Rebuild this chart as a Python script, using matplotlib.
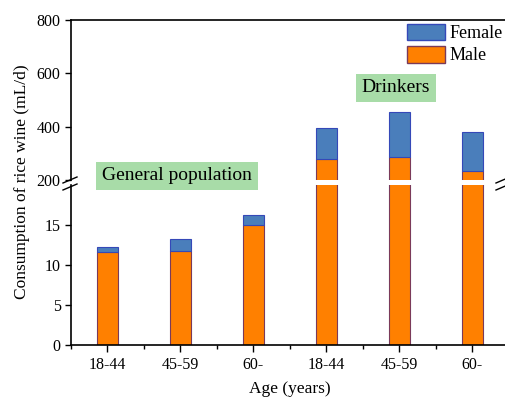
import numpy as np
import matplotlib.pyplot as plt
from matplotlib.patches import Patch

plt.rcParams['font.family'] = ['Liberation Serif', 'DejaVu Serif']

# Data (mL/d)
age_labels = ['18-44', '45-59', '60-', '18-44', '45-59', '60-']
male = [11.6, 11.8, 14.95, 280, 287, 235]
total = [12.3, 13.3, 16.25, 396, 455, 379]
female = [t - m for t, m in zip(total, male)]

female_color = '#4a7ebb'
female_edge = '#3548b8'
male_color = '#ff8000'
male_edge = '#7a3a5a'

W, H = 506, 399
fig = plt.figure(figsize=(W / 100, H / 100), dpi=100)

left = 71 / W
width = (509 - 71) / W
ax_top = fig.add_axes([left, (H - 180) / H, width, 160 / H])
ax_bot = fig.add_axes([left, (H - 345) / H, width, 160 / H])

x = np.arange(len(age_labels))
bw = 0.3
for ax in (ax_top, ax_bot):
    ax.bar(x, male, bw, color=male_color, edgecolor=male_edge, linewidth=0.8, zorder=2)
    ax.bar(x, female, bw, bottom=male, color=female_color, edgecolor=female_edge,
           linewidth=0.8, zorder=2)
    ax.set_xlim(-0.5, 5.5)
    ax.spines['right'].set_visible(False)
    ax.tick_params(axis='y', direction='out', length=4, labelsize=11.5, width=1)
    for s in ('left', 'bottom', 'top'):
        ax.spines[s].set_linewidth(1.2)

ax_top.set_ylim(200, 800)
ax_top.set_yticks([200, 400, 600, 800])
ax_top.spines['bottom'].set_visible(False)
ax_top.set_xticks([])

ax_bot.set_ylim(0, 20)
ax_bot.set_yticks([0, 5, 10, 15])
ax_bot.spines['top'].set_visible(False)
ax_bot.set_xticks(x)
ax_bot.set_xticklabels(age_labels, fontsize=11.5)
ax_bot.set_xticks(np.arange(-0.5, 6.0, 1.0), minor=True)
ax_bot.tick_params(axis='x', which='major', direction='out', length=5, width=1)
ax_bot.tick_params(axis='x', which='minor', direction='out', length=3, width=1)

fig.text(290 / W, 1 - 389 / H, 'Age (years)', ha='center', va='center',
         fontsize=12.5)
fig.text(22 / W, 1 - 182 / H, 'Consumption of rice wine (mL/d)', rotation=90,
         ha='center', va='center', fontsize=12.5)

# break marks
def slash(xc, yc):
    fig.add_artist(plt.Line2D([(xc - 7) / W, (xc + 7) / W],
                              [1 - (yc + 3) / H, 1 - (yc - 3) / H],
                              color='black', lw=1.0))

for xc in (70, 503):
    slash(xc, 180)
    slash(xc, 187)

# labels in boxes
box = dict(boxstyle='square,pad=0.3', facecolor='#a8dca8', edgecolor='none')
fig.text(177 / W, 1 - 176 / H, 'General population', ha='center', va='center',
         fontsize=14, bbox=box)
fig.text(396 / W, 1 - 88 / H, 'Drinkers', ha='center', va='center',
         fontsize=14, bbox=box)

handles = [Patch(facecolor=female_color, edgecolor=female_edge, label='Female'),
           Patch(facecolor=male_color, edgecolor=male_edge, label='Male')]
ax_top.legend(handles=handles, loc='upper right', bbox_to_anchor=(0.995, 1.0),
              frameon=False, fontsize=13, handlelength=2.1, handleheight=1.05,
              handletextpad=0.3, labelspacing=0.2, borderaxespad=0.1,
              borderpad=0.1)

fig.savefig('out.png', dpi=100)
